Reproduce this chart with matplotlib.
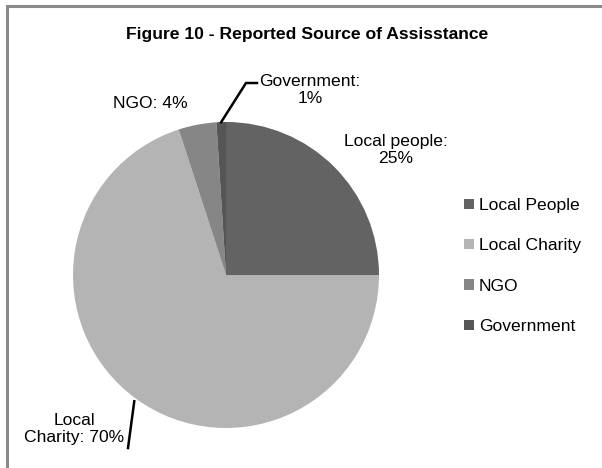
import numpy as np
import matplotlib.pyplot as plt
from matplotlib.patches import Rectangle
from matplotlib.lines import Line2D

plt.rcParams['font.family'] = ['Liberation Sans', 'DejaVu Sans']

# source of assistance, percent of respondents
sources = ['Local People', 'Local Charity', 'NGO', 'Government']
label_names = ['Local people', 'Local Charity', 'NGO', 'Government']
shares = [25, 70, 4, 1]
colors = ['#636363', '#b4b4b4', '#868686', '#555555']

W, H = 602, 468
fig = plt.figure(figsize=(W / 100, H / 100), dpi=100)

# pie centre and radius in pixels
cx, cy, rad = 226, 275, 153
half = 168
ax = fig.add_axes([(cx - half) / W, (H - cy - half) / H, 2 * half / W, 2 * half / H])

wedges, _ = ax.pie(shares, colors=colors, startangle=90, counterclock=False,
                   radius=1.0, wedgeprops=dict(linewidth=0))

lim = half / rad
ax.set_xlim(-lim, lim)
ax.set_ylim(-lim, lim)
ax.set_aspect('equal')
ax.axis('off')


def px(x, y):
    # pixel position (from top-left) to pie data coordinates
    return (x - cx) / rad, (cy - y) / rad


def edge(i):
    w = wedges[i]
    ang = np.deg2rad((w.theta1 + w.theta2) / 2)
    return np.cos(ang), np.sin(ang)


fs = 12.6
labels = [f'{n}: {s}%' for n, s in zip(label_names, shares)]

# Local people
ax.text(*px(396, 150), labels[0].replace(': ', ':\n'), ha='center', va='center',
        fontsize=fs)
# NGO
ax.text(*px(150, 104), labels[2], ha='center', va='center', fontsize=fs)
# Government with bent leader
ax.text(*px(310, 90), labels[3].replace(': ', ':\n'), ha='center', va='center',
        fontsize=fs)
ex, ey = edge(3)
bx, by = px(246, 83)
tx, ty = px(257, 83)
ax.add_line(Line2D([ex, bx, tx], [ey, by, ty], color='black', lw=1.8,
                   solid_joinstyle='miter', clip_on=False))
# Local Charity with leader
ax.text(*px(74, 429), 'Local\nCharity: 70%', ha='center', va='center',
        fontsize=fs)
ex, ey = edge(1)
lx, ly = px(128, 448)
ax.add_line(Line2D([ex * 1.02, lx], [ey * 1.02, ly], color='black', lw=1.8,
                   clip_on=False))

fig.text(307 / W, 1 - 34 / H, 'Figure 10 - Reported Source of Assisstance',
         ha='center', va='center', fontsize=12.6, fontweight='bold')

leg = fig.legend(wedges, sources, loc='upper left',
                 bbox_to_anchor=(464 / W, 1 - 198 / H), frameon=False,
                 fontsize=fs, handlelength=0.55, handleheight=0.55,
                 handletextpad=0.3, labelspacing=1.45, borderpad=0,
                 borderaxespad=0)

# outer frame
fig.patches.append(Rectangle((6.5 / W, -0.05), 1.1, 1 - 6.5 / H + 0.05,
                             transform=fig.transFigure, fill=False,
                             edgecolor='#8a8a8a', linewidth=2.2))

fig.savefig('out.png', dpi=100)
